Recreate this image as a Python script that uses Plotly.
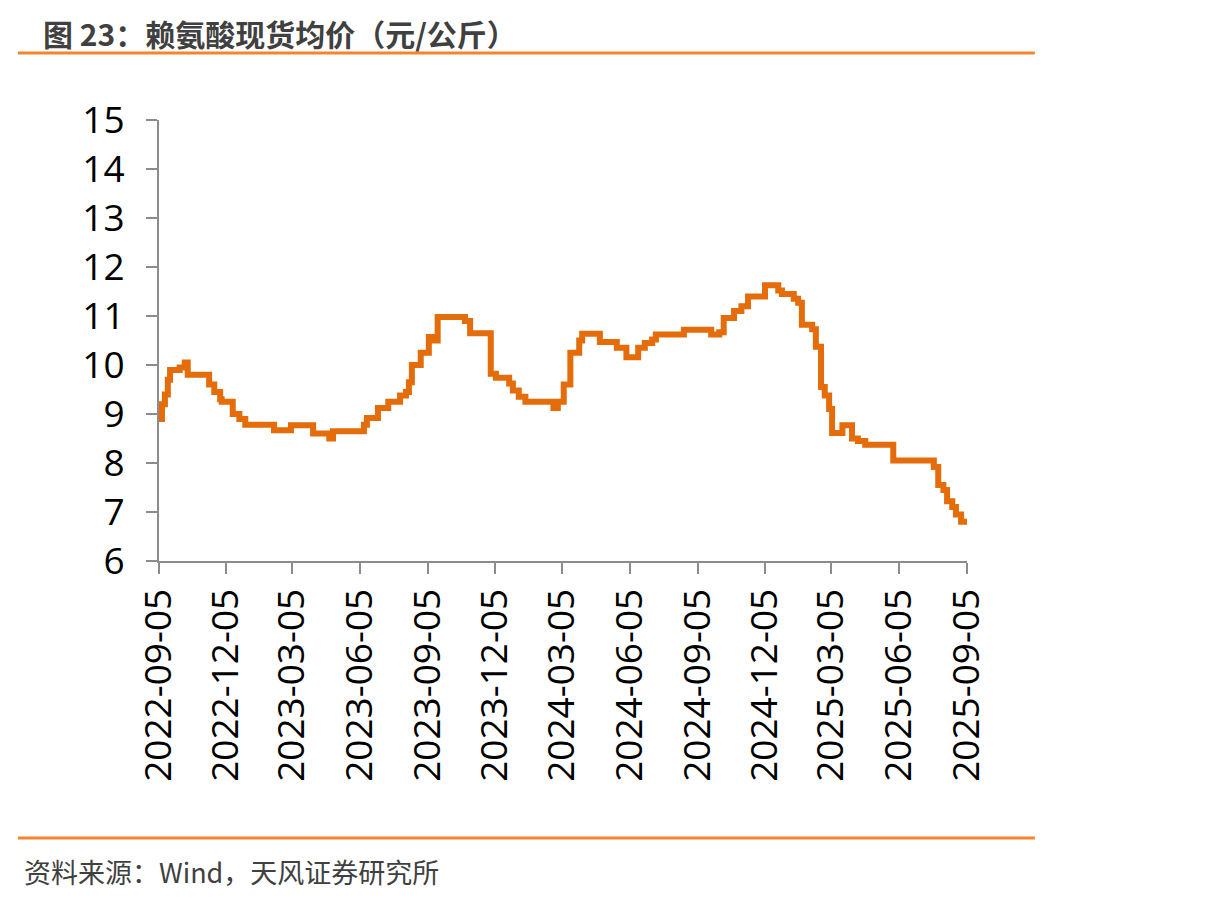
import plotly.graph_objects as go

# weekly spot price, change points (date the new price starts, price)
dates = [
    "2022-09-05", "2022-09-09", "2022-09-13", "2022-09-17", "2022-09-20",
    "2022-10-03", "2022-10-10", "2022-10-14", "2022-11-12", "2022-11-19",
    "2022-11-27", "2022-11-29", "2022-12-14", "2022-12-23", "2022-12-31",
    "2023-02-08", "2023-03-03", "2023-04-02", "2023-04-24", "2023-04-29",
    "2023-06-10", "2023-06-14", "2023-06-29", "2023-07-13", "2023-07-29",
    "2023-08-06", "2023-08-10", "2023-08-14", "2023-08-26", "2023-09-06",
    "2023-09-13", "2023-09-18", "2023-10-25", "2023-11-01", "2023-11-29",
    "2023-12-06", "2023-12-24", "2023-12-29", "2024-01-06", "2024-01-15",
    "2024-02-22", "2024-02-28", "2024-03-07", "2024-03-16", "2024-03-28",
    "2024-04-01", "2024-04-25", "2024-05-18", "2024-05-31", "2024-06-16",
    "2024-06-25", "2024-07-05", "2024-07-10", "2024-08-17", "2024-09-23",
    "2024-10-04", "2024-10-10", "2024-10-24", "2024-11-03", "2024-11-12",
    "2024-12-05", "2024-12-23", "2024-12-28", "2025-01-13", "2025-01-19",
    "2025-01-24", "2025-02-07", "2025-02-12", "2025-02-19", "2025-02-24",
    "2025-03-02", "2025-03-06", "2025-03-20", "2025-04-02", "2025-04-10",
    "2025-04-20", "2025-05-28", "2025-07-22", "2025-07-28", "2025-08-04",
    "2025-08-09", "2025-08-16", "2025-08-21", "2025-08-28", "2025-09-05",
]
prices = [
    8.90, 9.20, 9.40, 9.70, 9.90,
    9.95, 10.05, 9.80, 9.60, 9.45,
    9.30, 9.25, 9.00, 8.90, 8.78,
    8.67, 8.77, 8.60, 8.50, 8.65,
    8.78, 8.92, 9.12, 9.25, 9.38,
    9.45, 9.65, 10.00, 10.25, 10.57,
    10.50, 10.98, 10.90, 10.65, 9.82,
    9.74, 9.62, 9.48, 9.35, 9.25,
    9.12, 9.25, 9.60, 10.25, 10.50,
    10.64, 10.47, 10.35, 10.16, 10.35,
    10.45, 10.52, 10.62, 10.72, 10.62,
    10.67, 10.96, 11.10, 11.20, 11.40,
    11.63, 11.52, 11.45, 11.35, 11.27,
    10.82, 10.73, 10.37, 9.55, 9.38,
    9.10, 8.61, 8.77, 8.50, 8.45,
    8.37, 8.05, 7.92, 7.55, 7.45,
    7.22, 7.10, 6.95, 6.80, 6.80,
]

tick_dates = [
    "2022-09-05", "2022-12-05", "2023-03-05", "2023-06-05",
    "2023-09-05", "2023-12-05", "2024-03-05", "2024-06-05",
    "2024-09-05", "2024-12-05", "2025-03-05", "2025-06-05", "2025-09-05",
]

title = "图 23：赖氨酸现货均价（元/公斤）"
source = "资料来源：Wind，天风证券研究所"

fig = go.Figure()
fig.add_trace(go.Scatter(
    x=dates, y=prices, mode="lines",
    line=dict(color="#E46C0A", width=6, shape="hv"),
    showlegend=False,
))

axis_font = dict(family="Open Sans", size=37, color="#000000")

fig.update_layout(
    width=1232, height=901,
    margin=dict(l=151, r=273, t=112, b=348),
    paper_bgcolor="white", plot_bgcolor="white",
    xaxis=dict(
        type="date", range=["2022-09-05", "2025-09-05"],
        tickvals=tick_dates, ticktext=tick_dates, tickangle=-90,
        showgrid=False, zeroline=False,
        showline=True, linecolor="#8c8c8c", linewidth=2,
        ticks="outside", ticklen=11, tickwidth=2, tickcolor="#8c8c8c",
        tickfont=axis_font,
    ),
    yaxis=dict(
        range=[6, 15], dtick=1,
        showgrid=False, zeroline=False,
        showline=True, linecolor="#8c8c8c", linewidth=2,
        ticks="outside", ticklen=11, tickwidth=2, tickcolor="#8c8c8c",
        ticklabelstandoff=14,
        tickfont=axis_font,
    ),
)

# header and footer rules (paper coords relative to the plot area)
for yv in [1.152, -0.628]:
    fig.add_shape(type="line", xref="paper", yref="paper",
                  x0=-0.1745, x1=1.084, y0=yv, y1=yv,
                  line=dict(color="#F5842A", width=3))

fig.add_annotation(
    text=title, xref="paper", yref="paper", x=-0.145, y=1.25,
    xanchor="left", yanchor="top", showarrow=False, borderpad=0,
    font=dict(family="Noto Sans CJK SC", size=30, color="#404040", weight="bold"),
)
fig.add_annotation(
    text=source, xref="paper", yref="paper", x=-0.169, y=-0.705,
    xanchor="left", yanchor="middle", showarrow=False,
    font=dict(family="Noto Sans CJK SC", size=27, color="#404040"),
)

fig.write_html("out.html")
